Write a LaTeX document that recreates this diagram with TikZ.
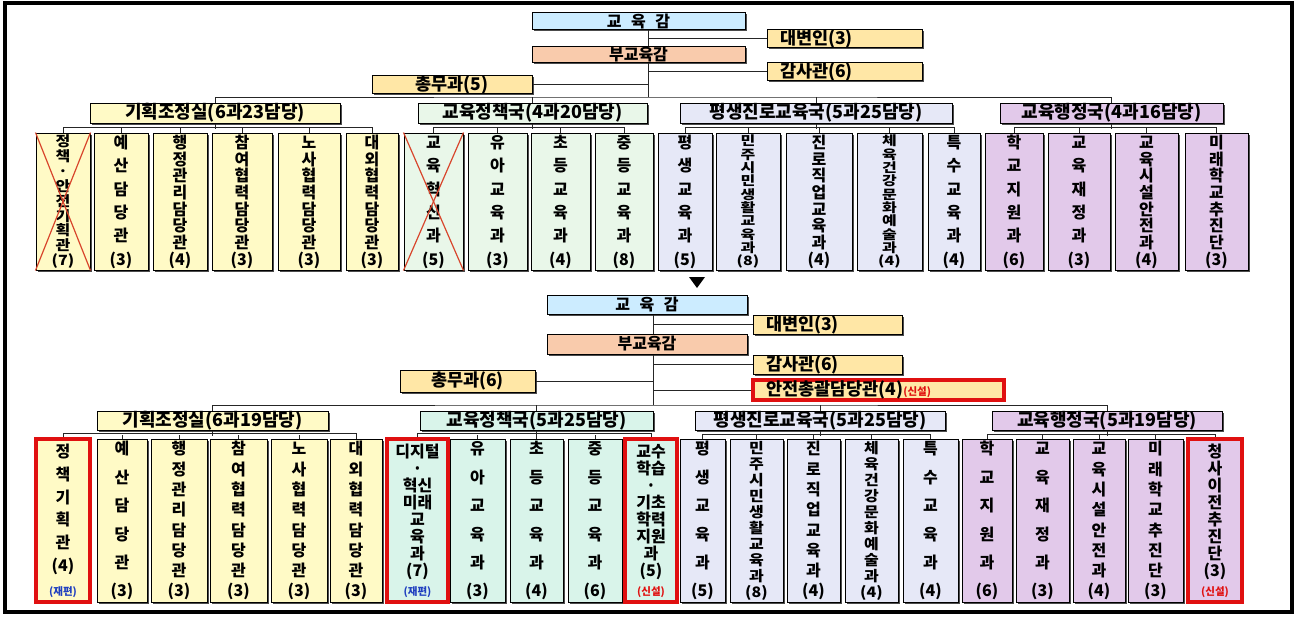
\documentclass[tikz,border=0pt]{standalone}
\usepackage{fontspec}
\setmainfont{Noto Sans CJK KR}
\usepackage{graphicx}
\usetikzlibrary{shadows}

\definecolor{supblue}{HTML}{CCECFF}
\definecolor{vicesal}{HTML}{F9CBAC}
\definecolor{staffyel}{HTML}{FFE7A6}
\definecolor{planyel}{HTML}{FFFAC6}
\definecolor{edugrn}{HTML}{E9F7E9}
\definecolor{edumint}{HTML}{D9F4EA}
\definecolor{lifelav}{HTML}{E6E8F7}
\definecolor{admpur}{HTML}{E2C9EA}
\definecolor{newred}{HTML}{E01010}
\definecolor{xred}{HTML}{D8452C}
\definecolor{reblue}{HTML}{2040C0}

% box given by its corners (image pixels, y downwards)
\def\orgnode#1#2(#3,#4)(#5,#6)#7{\node[#1, minimum width={(#5-#3)*1pt}, minimum height={(#6-#4)*1pt}] (#2) at ({(#3+#5)/2},{(#4+#6)/2}) {#7};}
% vertical text: height, vertical scale, items
\newcommand\vt[3]{\parbox[c][#1pt][s]{20pt}{\centering\baselineskip=0pt\lineskiplimit=0pt\lineskip=0pt%
\foreach \itm [count=\ix] in {#3}{\ifnum\ix>1 \vfill\fi\makebox[0pt]{\scalebox{1}[#2]{\rule[-0.12em]{0pt}{1em}\itm}}\par}}}
\newcommand\tagre{{\fontsize{10.5}{11}\selectfont\color{reblue}(재편)}}
\newcommand\tagnew{{\fontsize{10.5}{11}\selectfont\color{newred}(신설)}}

\begin{document}
\begin{tikzpicture}[x=1pt, y=-1pt,
  cell/.style={draw=black, line width=1pt, inner sep=0pt},
  bx/.style={cell, drop shadow={shadow xshift=1.5pt, shadow yshift=-1.5pt, opacity=1, fill=black!70}},
  topbox/.style={bx, font=\fontsize{16}{16}\selectfont\bfseries},
  staff/.style={bx, font=\fontsize{17.5}{17.5}\selectfont\bfseries},
  grp/.style={bx, font=\fontsize{18}{18}\selectfont\bfseries},
  col/.style={bx, font=\fontsize{16}{16}\selectfont\bfseries},
  newbox/.style={cell, draw=newred, line width=3.5pt, font=\fontsize{17.5}{17.5}\selectfont\bfseries},
  newcol/.style={cell, draw=newred, line width=3.5pt, font=\fontsize{16}{16}\selectfont\bfseries},
  wire/.style={line width=0.8pt, black!85},
  xline/.style={xred, line width=1.2pt}]
%%%%% START %%%%%

\fill[white] (0,0) rectangle (1296,618);
\useasboundingbox (0,0) rectangle (1296,618);
\draw[line width=4pt] (5,3) rectangle (1292,612);

% ---- before ----
\orgnode{topbox,fill=supblue}{gov1}(532,13)(745,30){교\hspace{.6em}육\hspace{.6em}감}
\orgnode{staff,fill=staffyel}{spk1}(767,30)(922,47){\makebox[129pt][l]{대변인(3)}}
\orgnode{topbox,fill=vicesal}{vice1}(532,47)(745,62){부교육감}
\orgnode{staff,fill=staffyel}{aud1}(767,63)(922,80){\makebox[129pt][l]{감사관(6)}}
\orgnode{staff,fill=staffyel}{gen1}(372,76)(532,93){총무과(5)}

\orgnode{grp,fill=planyel}{pl1}(90,103)(340,123){기획조정실(6과23담당)}
\orgnode{grp,fill=edugrn}{ed1}(418,103)(647,123){교육정책국(4과20담당)}
\orgnode{grp,fill=lifelav}{lf1}(680,103)(952,123){평생진로교육국(5과25담당)}
\orgnode{grp,fill=admpur}{ad1}(1000,103)(1223,123){교육행정국(4과16담당)}

\orgnode{col,fill=planyel}{a1}(36,133)(90,270){\vt{131}{0.88}{정,책,·,안,전,기,획,관,(7)}}
\orgnode{col,fill=planyel}{a2}(94,133)(148,270){\vt{131}{1}{예,산,담,당,관,(3)}}
\orgnode{col,fill=planyel}{a3}(153,133)(207,270){\vt{131}{1}{행,정,관,리,담,당,관,(4)}}
\orgnode{col,fill=planyel}{a4}(212,133)(272,270){\vt{131}{1}{참,여,협,력,담,당,관,(3)}}
\orgnode{col,fill=planyel}{a5}(278,133)(340,270){\vt{131}{1}{노,사,협,력,담,당,관,(3)}}
\orgnode{col,fill=planyel}{a6}(346,133)(398,270){\vt{131}{1}{대,외,협,력,담,당,관,(3)}}
\orgnode{col,fill=edugrn}{b1}(404,133)(463,270){\vt{131}{1}{교,육,혁,신,과,(5)}}
\orgnode{col,fill=edugrn}{b2}(468,133)(527,270){\vt{131}{1}{유,아,교,육,과,(3)}}
\orgnode{col,fill=edugrn}{b3}(531,133)(590,270){\vt{131}{1}{초,등,교,육,과,(4)}}
\orgnode{col,fill=edugrn}{b4}(595,133)(653,270){\vt{131}{1}{중,등,교,육,과,(8)}}
\orgnode{col,fill=lifelav}{c1}(658,133)(712,270){\vt{131}{1}{평,생,교,육,과,(5)}}
\orgnode{col,fill=lifelav}{c2}(716,133)(780,270){\vt{131}{0.8}{민,주,시,민,생,활,교,육,과,(8)}}
\orgnode{col,fill=lifelav}{c3}(786,133)(852,270){\vt{131}{1}{진,로,직,업,교,육,과,(4)}}
\orgnode{col,fill=lifelav}{c4}(857,133)(922,270){\vt{131}{0.8}{체,육,건,강,문,화,예,술,과,(4)}}
\orgnode{col,fill=lifelav}{c5}(928,133)(980,270){\vt{131}{1}{특,수,교,육,과,(4)}}
\orgnode{col,fill=admpur}{d1}(985,133)(1043,270){\vt{131}{1}{학,교,지,원,과,(6)}}
\orgnode{col,fill=admpur}{d2}(1048,133)(1110,270){\vt{131}{1}{교,육,재,정,과,(3)}}
\orgnode{col,fill=admpur}{d3}(1115,133)(1178,270){\vt{131}{1}{교,육,시,설,안,전,과,(4)}}
\orgnode{col,fill=admpur}{d4}(1185,133)(1248,270){\vt{131}{1}{미,래,학,교,추,진,단,(3)}}

\draw[xline] (a1.north west) -- (a1.south east);
\draw[xline] (a1.north east) -- (a1.south west);
\draw[xline] (b1.north west) -- (b1.south east);
\draw[xline] (b1.north east) -- (b1.south west);

\coordinate (trunk1) at (648,97);
\draw[wire] (gov1.south -| trunk1) -- (vice1.north -| trunk1);
\draw[wire] (vice1.south -| trunk1) -- (trunk1);
\draw[wire] (spk1.west) -- (spk1.west -| trunk1);
\draw[wire] (aud1.west) -- (aud1.west -| trunk1);
\draw[wire] (gen1.east) -- (gen1.east -| trunk1);
\draw[wire] (pl1.north) |- (trunk1) -| (ad1.north);
\draw[wire] (ed1.north) -- (ed1.north |- trunk1);
\draw[wire] (lf1.north) -- (lf1.north |- trunk1);

\draw[wire] (a1.north) -- ++(0,-5) -| (a6.north);
\draw[wire] (pl1.south) -- ++(0,5);
\draw[wire] (a2.north) -- ++(0,-5);
\draw[wire] (a3.north) -- ++(0,-5);
\draw[wire] (a4.north) -- ++(0,-5);
\draw[wire] (a5.north) -- ++(0,-5);
\draw[wire] (b1.north) -- ++(0,-5) -| (b4.north);
\draw[wire] (ed1.south) -- ++(0,5);
\draw[wire] (b2.north) -- ++(0,-5);
\draw[wire] (b3.north) -- ++(0,-5);
\draw[wire] (c1.north) -- ++(0,-5) -| (c5.north);
\draw[wire] (lf1.south) -- ++(0,5);
\draw[wire] (c2.north) -- ++(0,-5);
\draw[wire] (c3.north) -- ++(0,-5);
\draw[wire] (c4.north) -- ++(0,-5);
\draw[wire] (d1.north) -- ++(0,-5) -| (d4.north);
\draw[wire] (ad1.south) -- ++(0,5);
\draw[wire] (d2.north) -- ++(0,-5);
\draw[wire] (d3.north) -- ++(0,-5);

\fill (689,277) -- (705,277) -- (697,288) -- cycle;

% ---- after ----
\orgnode{topbox,fill=supblue}{gov2}(547,295)(747,314){교\hspace{.6em}육\hspace{.6em}감}
\orgnode{staff,fill=staffyel}{spk2}(753,315)(902,334){\makebox[123pt][l]{대변인(3)}}
\orgnode{topbox,fill=vicesal}{vice2}(547,334)(747,354){부교육감}
\orgnode{staff,fill=staffyel}{aud2}(753,355)(902,374){\makebox[123pt][l]{감사관(6)}}
\orgnode{staff,fill=staffyel}{gen2}(400,370)(535,392){총무과(6)}
\orgnode{newbox,fill=staffyel}{safe2}(753,380)(1004,400){\makebox[225pt][l]{안전총괄담당관(4)\tagnew}}

\orgnode{grp,fill=planyel}{pl2}(97,411)(328,430){기획조정실(6과19담당)}
\orgnode{grp,fill=edumint}{ed2}(420,411)(653,430){교육정책국(5과25담당)}
\orgnode{grp,fill=lifelav}{lf2}(695,411)(945,430){평생진로교육국(5과25담당)}
\orgnode{grp,fill=admpur}{ad2}(992,411)(1222,430){교육행정국(5과19담당)}

\orgnode{newcol,fill=planyel}{e1}(36,439)(90,602){\vt{152}{1}{정,책,기,획,관,(4),\tagre}}
\orgnode{col,fill=planyel}{e2}(97,439)(147,602){\vt{156}{1}{예,산,담,당,관,(3)}}
\orgnode{col,fill=planyel}{e3}(151,439)(207,602){\vt{156}{1}{행,정,관,리,담,당,관,(3)}}
\orgnode{col,fill=planyel}{e4}(210,439)(267,602){\vt{156}{1}{참,여,협,력,담,당,관,(3)}}
\orgnode{col,fill=planyel}{e5}(271,439)(327,602){\vt{156}{1}{노,사,협,력,담,당,관,(3)}}
\orgnode{col,fill=planyel}{e6}(330,439)(382,602){\vt{156}{1}{대,외,협,력,담,당,관,(3)}}
\orgnode{newcol,fill=edumint}{f1}(387,439)(448,602){\vt{152}{1}{디지털,·,혁신,미래,교,육,과,(7),\tagre}}
\orgnode{col,fill=edumint}{f2}(450,439)(505,602){\vt{156}{1}{유,아,교,육,과,(3)}}
\orgnode{col,fill=edumint}{f3}(510,439)(563,602){\vt{156}{1}{초,등,교,육,과,(4)}}
\orgnode{col,fill=edumint}{f4}(568,439)(622,602){\vt{156}{1}{중,등,교,육,과,(6)}}
\orgnode{newcol,fill=edumint}{f5}(625,439)(677,602){\vt{152}{1}{교수,학습,·,기초,학력,지원,과,(5),\tagnew}}
\orgnode{col,fill=lifelav}{g1}(680,439)(725,602){\vt{156}{1}{평,생,교,육,과,(5)}}
\orgnode{col,fill=lifelav}{g2}(730,439)(783,602){\vt{156}{0.9}{민,주,시,민,생,활,교,육,과,(8)}}
\orgnode{col,fill=lifelav}{g3}(787,439)(840,602){\vt{156}{1}{진,로,직,업,교,육,과,(4)}}
\orgnode{col,fill=lifelav}{g4}(845,439)(898,602){\vt{156}{0.9}{체,육,건,강,문,화,예,술,과,(4)}}
\orgnode{col,fill=lifelav}{g5}(903,439)(958,602){\vt{156}{1}{특,수,교,육,과,(4)}}
\orgnode{col,fill=admpur}{h1}(962,439)(1012,602){\vt{156}{1}{학,교,지,원,과,(6)}}
\orgnode{col,fill=admpur}{h2}(1016,439)(1069,602){\vt{156}{1}{교,육,재,정,과,(3)}}
\orgnode{col,fill=admpur}{h3}(1073,439)(1125,602){\vt{156}{1}{교,육,시,설,안,전,과,(4)}}
\orgnode{col,fill=admpur}{h4}(1128,439)(1183,602){\vt{156}{1}{미,래,학,교,추,진,단,(3)}}
\orgnode{newcol,fill=admpur}{h5}(1188,439)(1242,602){\vt{152}{1}{청,사,이,전,추,진,단,(3),\tagnew}}

\coordinate (trunk2) at (653,405);
\draw[wire] (gov2.south -| trunk2) -- (vice2.north -| trunk2);
\draw[wire] (vice2.south -| trunk2) -- (trunk2);
\draw[wire] (spk2.west) -- (spk2.west -| trunk2);
\draw[wire] (aud2.west) -- (aud2.west -| trunk2);
\draw[wire] (safe2.west) -- (safe2.west -| trunk2);
\draw[wire] (gen2.east) -- (gen2.east -| trunk2);
\draw[wire] (pl2.north) |- (trunk2) -| (ad2.north);
\draw[wire] (ed2.north) -- (ed2.north |- trunk2);
\draw[wire] (lf2.north) -- (lf2.north |- trunk2);

\draw[wire] (e1.north) -- ++(0,-4) -| (e6.north);
\draw[wire] (pl2.south) -- ++(0,5);
\draw[wire] (e2.north) -- ++(0,-4);
\draw[wire] (e3.north) -- ++(0,-4);
\draw[wire] (e4.north) -- ++(0,-4);
\draw[wire] (e5.north) -- ++(0,-4);
\draw[wire] (f1.north) -- ++(0,-4) -| (f5.north);
\draw[wire] (ed2.south) -- ++(0,5);
\draw[wire] (f2.north) -- ++(0,-4);
\draw[wire] (f3.north) -- ++(0,-4);
\draw[wire] (f4.north) -- ++(0,-4);
\draw[wire] (g1.north) -- ++(0,-4) -| (g5.north);
\draw[wire] (lf2.south) -- ++(0,5);
\draw[wire] (g2.north) -- ++(0,-4);
\draw[wire] (g3.north) -- ++(0,-4);
\draw[wire] (g4.north) -- ++(0,-4);
\draw[wire] (h1.north) -- ++(0,-4) -| (h5.north);
\draw[wire] (ad2.south) -- ++(0,5);
\draw[wire] (h2.north) -- ++(0,-4);
\draw[wire] (h3.north) -- ++(0,-4);
\draw[wire] (h4.north) -- ++(0,-4);

%%%%% END %%%%%
\end{tikzpicture}
\end{document}
